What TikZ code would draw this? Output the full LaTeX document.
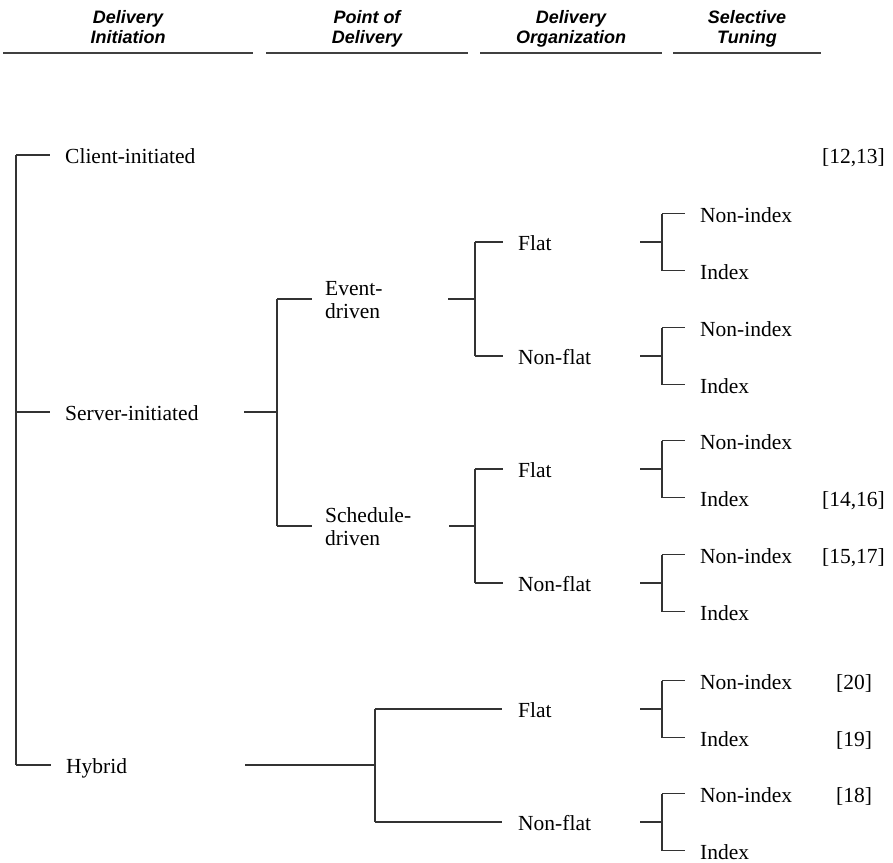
\documentclass[tikz,border=0pt]{standalone}
\usepackage{fontspec}
\setmainfont{Liberation Serif}
\newfontfamily\hdrfont{Liberation Sans}
\begin{document}
\begin{tikzpicture}[x=1pt,y=-1pt,
  lbl/.style={anchor=base west, inner sep=0pt, font=\fontsize{21.5}{23}\selectfont},
  hdr/.style={anchor=base, inner sep=0pt, font=\hdrfont\bfseries\itshape\fontsize{18}{20}\selectfont},
  br/.style={draw=black!80, line width=1.2pt},
  hrule/.style={draw=black!75, line width=1.6pt}]
\useasboundingbox (0,0) rectangle (893,862);

% headers
\node[hdr] (h1a) at (128,23.3) {Delivery};
\node[hdr] (h1b) at (128,43.3) {Initiation};
\node[hdr] (h2a) at (367,23.3) {Point of};
\node[hdr] (h2b) at (367,43.3) {Delivery};
\node[hdr] (h3a) at (571,23.3) {Delivery};
\node[hdr] (h3b) at (571,43.3) {Organization};
\node[hdr] (h4a) at (747,23.3) {Selective};
\node[hdr] (h4b) at (747,43.3) {Tuning};
\coordinate (l1a) at (3,53);   \coordinate (l1b) at (253,53);
\coordinate (l2a) at (266,53); \coordinate (l2b) at (468,53);
\coordinate (l3a) at (480,53); \coordinate (l3b) at (662,53);
\coordinate (l4a) at (673,53); \coordinate (l4b) at (821,53);
\draw[hrule] (l1a) -- (l1b);
\draw[hrule] (l2a) -- (l2b);
\draw[hrule] (l3a) -- (l3b);
\draw[hrule] (l4a) -- (l4b);

% level 1
\node[lbl] (ci) at (65,163.5) {Client-initiated};
\node[lbl] (si) at (65,420.5) {Server-initiated};
\node[lbl] (hy) at (66,773.5) {Hybrid};
\coordinate (r1) at (16,155);
\coordinate (r2) at (16,412);
\coordinate (r3) at (16,765);
\coordinate (r1e) at (50,155);
\coordinate (r2e) at (50,412);
\coordinate (r3e) at (51,765);
\draw[br] (r1) -- (r3);
\draw[br] (r1) -- (r1e);
\draw[br] (r2) -- (r2e);
\draw[br] (r3) -- (r3e);

% server-initiated subtree
\coordinate (s0) at (244,412);
\coordinate (sj) at (277,412);
\coordinate (sjt) at (277,299);
\coordinate (sjb) at (277,526);
\coordinate (ede) at (312,299);
\coordinate (sde) at (312,526);
\draw[br] (s0) -- (sj);
\draw[br] (sjt) -- (sjb);
\draw[br] (sjt) -- (ede);
\draw[br] (sjb) -- (sde);
\node[lbl] (ed1) at (325,295) {Event-};
\node[lbl] (ed2) at (325,318) {driven};
\node[lbl] (sd1) at (325,522) {Schedule-};
\node[lbl] (sd2) at (325,545) {driven};

% event-driven -> flat / non-flat
\coordinate (e0) at (448,299);
\coordinate (ej) at (475,299);
\coordinate (ejt) at (475,242);
\coordinate (ejb) at (475,356);
\coordinate (eft) at (503,242);
\coordinate (efb) at (503,356);
\draw[br] (e0) -- (ej);
\draw[br] (ejt) -- (ejb);
\draw[br] (ejt) -- (eft);
\draw[br] (ejb) -- (efb);
\node[lbl] (ef) at (518,250.5) {Flat};
\node[lbl] (enf) at (518,364.5) {Non-flat};

% schedule-driven -> flat / non-flat
\coordinate (c0) at (449,526);
\coordinate (cj) at (475,526);
\coordinate (cjt) at (475,469);
\coordinate (cjb) at (475,583);
\coordinate (cft) at (503,469);
\coordinate (cfb) at (503,583);
\draw[br] (c0) -- (cj);
\draw[br] (cjt) -- (cjb);
\draw[br] (cjt) -- (cft);
\draw[br] (cjb) -- (cfb);
\node[lbl] (sf) at (518,477.5) {Flat};
\node[lbl] (snf) at (518,591.5) {Non-flat};

% hybrid -> flat / non-flat
\coordinate (y0) at (245,765);
\coordinate (yj) at (375,765);
\coordinate (yjt) at (375,709);
\coordinate (yjb) at (375,822);
\coordinate (yft) at (502,709);
\coordinate (yfb) at (502,822);
\draw[br] (y0) -- (yj);
\draw[br] (yjt) -- (yjb);
\draw[br] (yjt) -- (yft);
\draw[br] (yjb) -- (yfb);
\node[lbl] (hf) at (518,717.5) {Flat};
\node[lbl] (hnf) at (518,830.5) {Non-flat};

% selective tuning leaves
\foreach \n/\p in {ef/242, enf/356, sf/469, snf/583, hf/709, hnf/822} {
  \coordinate (\n-a) at (640,\p);
  \coordinate (\n-j) at (662,\p);
  \coordinate (\n-t) at (662,{\p-28.5});
  \coordinate (\n-b) at (662,{\p+28.5});
  \coordinate (\n-te) at (685,{\p-28.5});
  \coordinate (\n-be) at (685,{\p+28.5});
  \draw[br] (\n-a) -- (\n-j);
  \draw[br] (\n-t) -- (\n-b);
  \draw[br] (\n-t) -- (\n-te);
  \draw[br] (\n-b) -- (\n-be);
  \node[lbl] (\n-ni) at (700,{\p-20}) {Non-index};
  \node[lbl] (\n-ix) at (700,{\p+37}) {Index};
}

% references
\node[lbl] (ref1) at (822,163.5) {[12,13]};
\node[lbl] (ref2) at (822,506) {[14,16]};
\node[lbl] (ref3) at (822,563) {[15,17]};
\node[lbl] (ref4) at (836,689) {[20]};
\node[lbl] (ref5) at (836,746) {[19]};
\node[lbl] (ref6) at (836,802) {[18]};
\end{tikzpicture}
\end{document}
